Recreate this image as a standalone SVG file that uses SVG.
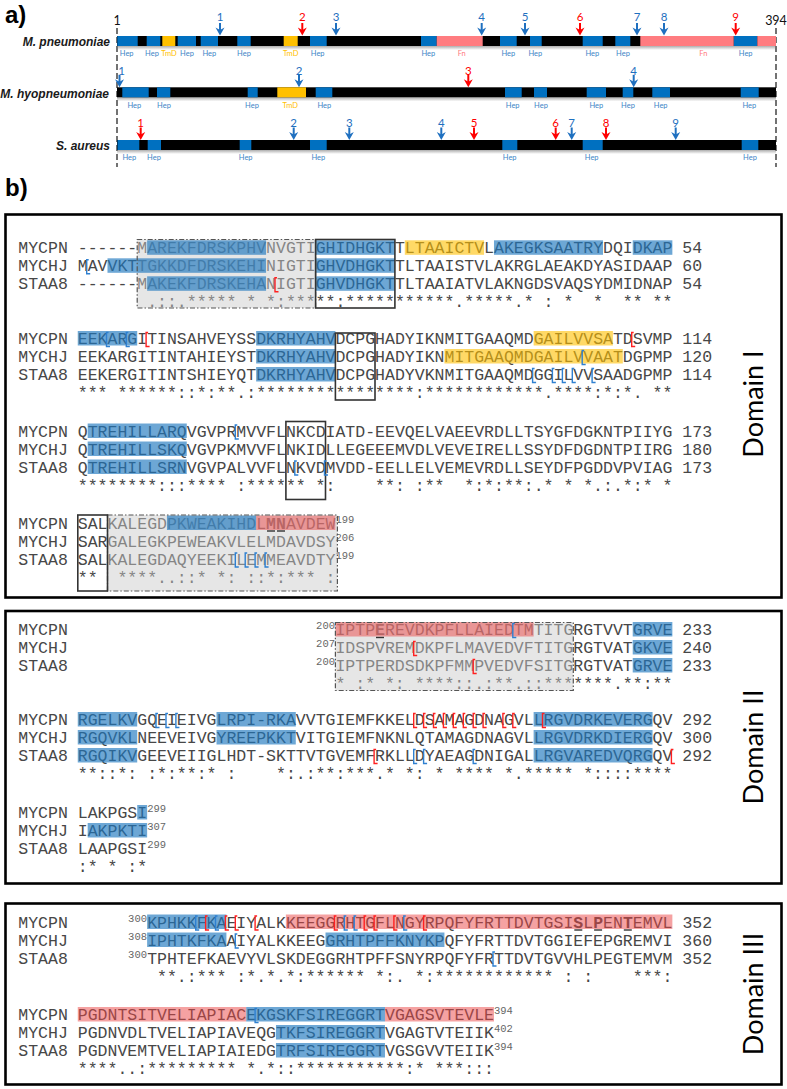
<svg xmlns="http://www.w3.org/2000/svg" width="787" height="1089" viewBox="0 0 787 1089">
<style>
.seq{font-family:"Liberation Mono","Courier New",monospace;font-size:16.52px;fill:#474747;white-space:pre}
.sup{font-family:"Liberation Mono","Courier New",monospace;font-size:10.5px;fill:#666}
.dom{font-family:Lato,"Open Sans",sans-serif;font-size:27px;fill:#000;text-anchor:middle}
.lbl{font-family:"Liberation Sans",Arial,sans-serif;font-weight:bold;font-size:24px;fill:#000}
.sp{font-family:"Liberation Sans",Arial,sans-serif;font-weight:bold;font-style:italic;font-size:12px;fill:#1a1a1a;text-anchor:end}
.hep{font-family:Lato,"Liberation Sans",sans-serif;font-size:7.5px;fill:#3d85c6;text-anchor:middle}
.tmd{font-family:Lato,"Liberation Sans",sans-serif;font-size:7.5px;fill:#ffc000;text-anchor:middle}
.fnl{font-family:Lato,"Liberation Sans",sans-serif;font-size:7.5px;fill:#ff7c80;text-anchor:middle}
.num{font-family:Lato,"Liberation Sans",sans-serif;font-size:11.5px;text-anchor:middle}
.nb{fill:#1f70c0}.nr{fill:#ff0000}
.end{font-family:Lato,"Liberation Sans",sans-serif;font-size:12.5px;fill:#111;text-anchor:middle}
.bl{fill:#0070c0}.ye{fill:#ffc000}.pk{fill:#ff7c80}
.hb{fill:#1f78be;fill-opacity:.65}.hy{fill:#ffc000;fill-opacity:.6}.hp{fill:#eb4646;fill-opacity:.5}.gb{fill:#cbcbcb;fill-opacity:.476}
.box{fill:none;stroke:#333;stroke-width:1.6}
.dbox{fill:none;stroke:#555;stroke-width:1.2;stroke-dasharray:5 2 1.5 2}
.frame{fill:none;stroke:#000;stroke-width:2.6}
.bb{stroke:#2f80d0;fill:none;stroke-width:1.4}.br{stroke:#ff2020;fill:none;stroke-width:1.4}
.ul{stroke:#333;stroke-width:1.4}
.ab{fill:#1f70c0;stroke:#1f70c0}.ar{fill:#ff0000;stroke:#ff0000}
.dash{stroke:#444;stroke-width:1.5;stroke-dasharray:6 3}
</style>
<defs>
<linearGradient id="sh" x1="0" y1="0" x2="0" y2="1"><stop offset="0" stop-color="#777" stop-opacity=".6"/><stop offset="1" stop-color="#777" stop-opacity="0"/></linearGradient>
<g id="arw"><path d="M0,-12.5V-5" stroke-width="2" fill="none"/><path d="M-4.5,-8L0,0L4.5,-8L0,-5.5Z" stroke="none"/></g>
<path id="bk" d="M2,-11.5H0V2.5H3.5"/>
</defs>
<rect width="787" height="1089" fill="#fff"/>

<g id="panel-a">
<text class="lbl" x="5" y="22.5">a)</text>
<line class="dash" x1="117" y1="28" x2="117" y2="167"/>
<line class="dash" x1="776" y1="28" x2="776" y2="167"/>
<text class="end" x="117" y="25">1</text>
<text class="end" x="776" y="25">394</text>

<g id="bar-mpn">
<text class="sp" x="110" y="45.5">M. pneumoniae</text>
<rect x="117" y="46" width="659" height="4" fill="url(#sh)"/>
<rect x="117" y="36" width="659" height="10" fill="#000"/>
<rect class="bl" x="117.3" y="36" width="20.4" height="10"/><rect class="bl" x="146.7" y="36" width="13.6" height="10"/><rect class="bl" x="177.7" y="36" width="18.3" height="10"/><rect class="bl" x="200.7" y="36" width="17.3" height="10"/><rect class="bl" x="237.3" y="36" width="13.4" height="10"/><rect class="bl" x="310" y="36" width="16.7" height="10"/><rect class="bl" x="421" y="36" width="15.7" height="10"/><rect class="bl" x="500" y="36" width="16.7" height="10"/><rect class="bl" x="530" y="36" width="11.7" height="10"/><rect class="bl" x="582.7" y="36" width="20" height="10"/><rect class="bl" x="615.3" y="36" width="15" height="10"/><rect class="bl" x="733.7" y="36" width="23.6" height="10"/>
<rect class="ye" x="162.3" y="36" width="13" height="10"/><rect class="ye" x="283.7" y="36" width="14" height="10"/>
<rect class="pk" x="436.7" y="36" width="46" height="10"/><rect class="pk" x="640.3" y="36" width="93.4" height="10"/><rect class="pk" x="757.3" y="36" width="18.7" height="10"/>
<text class="hep" x="126.7" y="56">Hep</text><text class="hep" x="152" y="56">Hep</text><text class="tmd" x="169" y="56">TmD</text><text class="hep" x="187" y="56">Hep</text><text class="hep" x="209.3" y="56">Hep</text><text class="hep" x="244" y="56">Hep</text><text class="tmd" x="290.7" y="56">TmD</text><text class="hep" x="317.7" y="56">Hep</text><text class="hep" x="428.3" y="56">Hep</text><text class="fnl" x="461.7" y="56">Fn</text><text class="hep" x="508.3" y="56">Hep</text><text class="hep" x="535.3" y="56">Hep</text><text class="hep" x="592.3" y="56">Hep</text><text class="hep" x="623" y="56">Hep</text><text class="fnl" x="703.3" y="56">Fn</text><text class="hep" x="745.7" y="56">Hep</text>
</g>

<g id="bar-mhy">
<text class="sp" x="109" y="97.8">M. hyopneumoniae</text>
<rect x="117" y="97.3" width="659" height="4" fill="url(#sh)"/>
<rect x="117" y="87.3" width="659" height="10" fill="#000"/>
<rect class="bl" x="122.3" y="87.3" width="26.4" height="10"/><rect class="bl" x="157" y="87.3" width="13.3" height="10"/><rect class="bl" x="247.7" y="87.3" width="10" height="10"/><rect class="bl" x="315.7" y="87.3" width="16.6" height="10"/><rect class="bl" x="505" y="87.3" width="16.7" height="10"/><rect class="bl" x="534" y="87.3" width="13" height="10"/><rect class="bl" x="586.7" y="87.3" width="19.3" height="10"/><rect class="bl" x="622.7" y="87.3" width="10.6" height="10"/><rect class="bl" x="652.3" y="87.3" width="17.7" height="10"/><rect class="bl" x="740.7" y="87.3" width="18" height="10"/>
<rect class="ye" x="277.3" y="87.3" width="28.7" height="10"/>
<text class="hep" x="134.3" y="107.5">Hep</text><text class="hep" x="164" y="107.5">Hep</text><text class="hep" x="252" y="107.5">Hep</text><text class="tmd" x="290.3" y="107.5">TmD</text><text class="hep" x="324.3" y="107.5">Hep</text><text class="hep" x="512.7" y="107.5">Hep</text><text class="hep" x="541" y="107.5">Hep</text><text class="hep" x="596.3" y="107.5">Hep</text><text class="hep" x="628" y="107.5">Hep</text><text class="hep" x="660.7" y="107.5">Hep</text><text class="hep" x="749.3" y="107.5">Hep</text>
</g>

<g id="bar-sau">
<text class="sp" x="110" y="150.3">S. aureus</text>
<rect x="117" y="150" width="659" height="4" fill="url(#sh)"/>
<rect x="117" y="140" width="659" height="10" fill="#000"/>
<rect class="bl" x="117.5" y="140" width="21.8" height="10"/><rect class="bl" x="147.7" y="140" width="13.3" height="10"/><rect class="bl" x="239.7" y="140" width="11.6" height="10"/><rect class="bl" x="310" y="140" width="16.7" height="10"/><rect class="bl" x="502.3" y="140" width="15" height="10"/><rect class="bl" x="582.7" y="140" width="20" height="10"/><rect class="bl" x="741.7" y="140" width="16.6" height="10"/>
<text class="hep" x="129.3" y="160">Hep</text><text class="hep" x="154" y="160">Hep</text><text class="hep" x="245.7" y="160">Hep</text><text class="hep" x="318.3" y="160">Hep</text><text class="hep" x="509.7" y="160">Hep</text><text class="hep" x="591.7" y="160">Hep</text><text class="hep" x="750" y="160">Hep</text>
</g>

<g id="arrows">
<use href="#arw" class="ab" x="220" y="35.5"/><text class="num nb" x="220" y="21">1</text>
<use href="#arw" class="ar" x="302.3" y="35.5"/><text class="num nr" x="302.3" y="21">2</text>
<use href="#arw" class="ab" x="336" y="35.5"/><text class="num nb" x="336" y="21">3</text>
<use href="#arw" class="ab" x="481.7" y="35.5"/><text class="num nb" x="481.7" y="21">4</text>
<use href="#arw" class="ab" x="525" y="35.5"/><text class="num nb" x="525" y="21">5</text>
<use href="#arw" class="ar" x="580" y="35.5"/><text class="num nr" x="580" y="21">6</text>
<use href="#arw" class="ab" x="637" y="35.5"/><text class="num nb" x="637" y="21">7</text>
<use href="#arw" class="ab" x="664" y="35.5"/><text class="num nb" x="664" y="21">8</text>
<use href="#arw" class="ar" x="735.7" y="35.5"/><text class="num nr" x="735.7" y="21">9</text>

<use href="#arw" class="ab" x="119.5" y="87.3"/><text class="num nb" x="121.5" y="74.5">1</text>
<use href="#arw" class="ab" x="299" y="87.3"/><text class="num nb" x="299" y="74.5">2</text>
<use href="#arw" class="ar" x="468.3" y="87.3"/><text class="num nr" x="468.3" y="74.5">3</text>
<use href="#arw" class="ab" x="633.7" y="87.3"/><text class="num nb" x="633.7" y="74.5">4</text>

<use href="#arw" class="ar" x="140.7" y="140"/><text class="num nr" x="140.7" y="126.5">1</text>
<use href="#arw" class="ab" x="293.7" y="140"/><text class="num nb" x="293.7" y="126.5">2</text>
<use href="#arw" class="ab" x="349.3" y="140"/><text class="num nb" x="349.3" y="126.5">3</text>
<use href="#arw" class="ab" x="441.3" y="140"/><text class="num nb" x="441.3" y="126.5">4</text>
<use href="#arw" class="ar" x="474" y="140"/><text class="num nr" x="474" y="126.5">5</text>
<use href="#arw" class="ar" x="555.7" y="140"/><text class="num nr" x="555.7" y="126.5">6</text>
<use href="#arw" class="ab" x="571.7" y="140"/><text class="num nb" x="571.7" y="126.5">7</text>
<use href="#arw" class="ar" x="606" y="140"/><text class="num nr" x="606" y="126.5">8</text>
<use href="#arw" class="ab" x="675.7" y="140"/><text class="num nb" x="675.7" y="126.5">9</text>
</g>
</g>

<text class="lbl" x="5" y="196">b)</text>

<g id="sequences">
<text class="seq" xml:space="preserve" x="18.3" y="253.3">MYCPN ------MAREKFDRSKPHVNVGTIGHIDHGKTTLTAAICTVLAKEGKSAATRYDQIDKAP 54</text>
<text class="seq" xml:space="preserve" x="18.3" y="271.3">MYCHJ MAVVKTTGKKDFDRSKEHINIGTIGHVDHGKTTLTAAISTVLAKRGLAEAKDYASIDAAP 60</text>
<text class="seq" xml:space="preserve" x="18.3" y="289.3">STAA8 ------MAKEKFDRSKEHANIGTIGHVDHGKTTLTAAIATVLAKNGDSVAQSYDMIDNAP 54</text>
<text class="seq" xml:space="preserve" x="147.13" y="307.3">.::.***** * *:*****:***********.*****.* : *  *  ** **</text>

<text class="seq" xml:space="preserve" x="18.3" y="344">MYCPN EEKARGITINSAHVEYSSDKRHYAHVDCPGHADYIKNMITGAAQMDGAILVVSATDSVMP 114</text>
<text class="seq" xml:space="preserve" x="18.3" y="362">MYCHJ EEKARGITINTAHIEYSTDKRHYAHVDCPGHADYIKNMITGAAQMDGAILVVAATDGPMP 120</text>
<text class="seq" xml:space="preserve" x="18.3" y="380">STAA8 EEKERGITINTSHIEYQTDKRHYAHVDCPGHADYVKNMITGAAQMDGGILVVSAADGPMP 114</text>
<text class="seq" xml:space="preserve" x="77.76" y="398">*** ******::*:**.:****************:************.****:*:*. **</text>

<text class="seq" xml:space="preserve" x="18.3" y="436.5">MYCPN QTREHILLARQVGVPRMVVFLNKCDIATD-EEVQELVAEEVRDLLTSYGFDGKNTPIIYG 173</text>
<text class="seq" xml:space="preserve" x="18.3" y="454.5">MYCHJ QTREHILLSKQVGVPKMVVFLNKIDLLEGEEEMVDLVEVEIRELLSSYDFDGDNTPIIRG 180</text>
<text class="seq" xml:space="preserve" x="18.3" y="472.5">STAA8 QTREHILLSRNVGVPALVVFLNKVDMVDD-EELLELVEMEVRDLLSEYDFPGDDVPVIAG 173</text>
<text class="seq" xml:space="preserve" x="77.76" y="490.5">********:::**** :****** *:    **: :**  *:*:**:.* * *.:.*:* *</text>

<text class="seq" xml:space="preserve" x="18.3" y="528.5">MYCPN SALKALEGDPKWEAKIHDL<tspan font-weight="bold">MN</tspan>AVDEW</text>
<text class="seq" xml:space="preserve" x="18.3" y="546.5">MYCHJ SARGALEGKPEWEAKVLELMDAVDSY</text>
<text class="seq" xml:space="preserve" x="18.3" y="564.5">STAA8 SALKALEGDAQYEEKILEMMEAVDTY</text>
<text class="seq" xml:space="preserve" x="77.76" y="582.5">**  ****..::* *: ::*:*** :</text>
<text class="sup" x="335.4" y="522.5">199</text><text class="sup" x="335.4" y="540.5">206</text><text class="sup" x="335.4" y="558.5">199</text>

<text class="seq" x="18.3" y="635">MYCPN</text><text class="seq" x="18.3" y="653">MYCHJ</text><text class="seq" x="18.3" y="671">STAA8</text>
<text class="seq" xml:space="preserve" x="335.42" y="635">IPTP<tspan font-weight="bold">E</tspan>REVDKPFLLAIEDTMTITGRGTVVTGRVE 233</text>
<text class="seq" xml:space="preserve" x="335.42" y="653">IDSPVREMDKPFLMAVEDVFTITGRGTVATGKVE 240</text>
<text class="seq" xml:space="preserve" x="335.42" y="671">IPTPERDSDKPFMMPVEDVFSITGRGTVATGRVE 233</text>
<text class="seq" xml:space="preserve" x="335.42" y="689">* :* *: ****::.:**.::*******.**:**</text>
<text class="sup" x="335" y="629" text-anchor="end">200</text><text class="sup" x="335" y="647" text-anchor="end">207</text><text class="sup" x="335" y="665" text-anchor="end">200</text>

<text class="seq" xml:space="preserve" x="18.3" y="725">MYCPN RGELKVGQEIEIVGLRPI-RKAVVTGIEMFKKELDSAMAGDNAGVLLRGVDRKEVERGQV 292</text>
<text class="seq" xml:space="preserve" x="18.3" y="743">MYCHJ RGQVKLNEEVEIVGYREEPKKTVITGIEMFNKNLQTAMAGDNAGVLLRGVDRKDIERGQV 300</text>
<text class="seq" xml:space="preserve" x="18.3" y="761">STAA8 RGQIKVGEEVEIIGLHDT-SKTTVTGVEMFRKLLDYAEAGDNIGALLRGVAREDVQRGQV 292</text>
<text class="seq" xml:space="preserve" x="77.76" y="779">**::*: :*:**:* :    *:.:**:***.* *: * **** *.***** *::::****</text>

<text class="seq" xml:space="preserve" x="18.3" y="818">MYCPN LAKPGSI</text>
<text class="seq" xml:space="preserve" x="18.3" y="836">MYCHJ IAKPKTI</text>
<text class="seq" xml:space="preserve" x="18.3" y="854">STAA8 LAAPGSI</text>
<text class="seq" xml:space="preserve" x="77.76" y="872">:* * :*</text>
<text class="sup" x="147.13" y="812">299</text><text class="sup" x="147.13" y="830">307</text><text class="sup" x="147.13" y="848">299</text>

<text class="seq" x="18.3" y="927.5">MYCPN</text><text class="seq" x="18.3" y="945.5">MYCHJ</text><text class="seq" x="18.3" y="963.5">STAA8</text>
<text class="seq" xml:space="preserve" x="147.13" y="927.5">KPHKKFKAEIYALKKEEGGRHTGFLNGYRPQFYFRTTDVTGSI<tspan font-weight="bold">S</tspan>L<tspan font-weight="bold">P</tspan>EN<tspan font-weight="bold">T</tspan>EMVL 352</text>
<text class="seq" xml:space="preserve" x="147.13" y="945.5">IPHTKFKAAIYALKKEEGGRHTPFFKNYKPQFYFRTTDVTGGIEFEPGREMVI 360</text>
<text class="seq" xml:space="preserve" x="147.13" y="963.5">TPHTEFKAEVYVLSKDEGGRHTPFFSNYRPQFYFRTTDVTGVVHLPEGTEMVM 352</text>
<text class="seq" xml:space="preserve" x="157.04" y="981.5">**.:*** :*.*.*:****** *:. *:************ : :    ***:</text>
<text class="sup" x="147" y="921.5" text-anchor="end">300</text><text class="sup" x="147" y="939.5" text-anchor="end">308</text><text class="sup" x="147" y="957.5" text-anchor="end">300</text>

<text class="seq" xml:space="preserve" x="18.3" y="1020">MYCPN PGDNTSITVELIAPIACEKGSKFSIREGGRTVGAGSVTEVLE</text>
<text class="seq" xml:space="preserve" x="18.3" y="1038">MYCHJ PGDNVDLTVELIAPIAVEQGTKFSIREGGRTVGAGTVTEIIK</text>
<text class="seq" xml:space="preserve" x="18.3" y="1056">STAA8 PGDNVEMTVELIAPIAIEDGTRFSIREGGRTVGSGVVTEIIK</text>
<text class="seq" xml:space="preserve" x="77.76" y="1074">****..:********* *.*::***********:* ***:::</text>
<text class="sup" x="494" y="1014">394</text><text class="sup" x="494" y="1032">402</text><text class="sup" x="494" y="1050">394</text>
</g>

<g id="highlights" transform="matrix(9.91 0 0 1 18.3 0)">
<rect class="gb" x="12" y="239.5" width="18" height="68.5"/>
<rect class="gb" x="9" y="515" width="23.2" height="76"/>
<rect class="gb" x="32" y="622.5" width="24" height="68"/>

<rect class="hb" x="13" y="240.3" width="12" height="14.5"/><rect class="hb" x="30" y="240.3" width="8" height="14.5"/><rect class="hy" x="39" y="240.3" width="8" height="14.5"/><rect class="hb" x="48" y="240.3" width="11" height="14.5"/><rect class="hb" x="62" y="240.3" width="4" height="14.5"/>
<rect class="hb" x="9" y="258.3" width="16" height="14.5"/><rect class="hb" x="30" y="258.3" width="8" height="14.5"/>
<rect class="hb" x="13" y="276.3" width="12" height="14.5"/><rect class="hb" x="30" y="276.3" width="8" height="14.5"/>

<rect class="hb" x="6" y="331" width="6" height="14.5"/><rect class="hb" x="24" y="331" width="8" height="14.5"/><rect class="hy" x="52" y="331" width="8" height="14.5"/>
<rect class="hb" x="24" y="349" width="8" height="14.5"/><rect class="hy" x="43" y="349" width="18" height="14.5"/>
<rect class="hb" x="24" y="367" width="8" height="14.5"/>

<rect class="hb" x="7" y="423.5" width="10" height="14.5"/><rect class="hb" x="7" y="441.5" width="10" height="14.5"/><rect class="hb" x="7" y="459.5" width="10" height="14.5"/>

<rect class="hb" x="15" y="515.5" width="9" height="14.5"/><rect class="hp" x="24" y="515.5" width="8" height="14.5"/>

<rect class="hp" x="32" y="622" width="20" height="14.5"/><rect class="hb" x="62" y="622" width="4" height="14.5"/>
<rect class="hb" x="62" y="640" width="4" height="14.5"/><rect class="hb" x="62" y="658" width="4" height="14.5"/>

<rect class="hb" x="6" y="712" width="6" height="14.5"/><rect class="hb" x="20" y="712" width="8" height="14.5"/><rect class="hb" x="52" y="712" width="12" height="14.5"/>
<rect class="hb" x="6" y="730" width="6" height="14.5"/><rect class="hb" x="20" y="730" width="8" height="14.5"/><rect class="hb" x="52" y="730" width="12" height="14.5"/>
<rect class="hb" x="6" y="748" width="6" height="14.5"/><rect class="hb" x="52" y="748" width="12" height="14.5"/>

<rect class="hb" x="12" y="805" width="1" height="14.5"/><rect class="hb" x="7" y="823" width="6" height="14.5"/>

<rect class="hb" x="13" y="914.5" width="8" height="14.5"/><rect class="hp" x="27" y="914.5" width="39" height="14.5"/>
<rect class="hb" x="13" y="932.5" width="8" height="14.5"/><rect class="hb" x="31" y="932.5" width="12" height="14.5"/>

<rect class="hp" x="6" y="1007" width="17" height="14.5"/><rect class="hb" x="23" y="1007" width="14" height="14.5"/><rect class="hp" x="37" y="1007" width="11" height="14.5"/>
<rect class="hb" x="26" y="1025" width="11" height="14.5"/><rect class="hb" x="26" y="1043" width="11" height="14.5"/>
</g>

<g id="boxes">
<rect class="dbox" x="137.2" y="239.5" width="178.4" height="68.5"/>
<rect class="dbox" x="107.5" y="515" width="229.9" height="76"/>
<rect class="dbox" x="335.4" y="622.5" width="237.9" height="68"/>
<rect class="box" x="315.6" y="239.5" width="79.3" height="68.5"/>
<rect class="box" x="335.4" y="333" width="39.6" height="67"/>
<rect class="box" x="285.9" y="421.5" width="39.6" height="78"/>
<rect class="box" x="77.8" y="515" width="29.7" height="76"/>
</g>

<g id="underlines">
<line class="ul" x1="267" y1="531" x2="275" y2="531"/><line class="ul" x1="277" y1="531" x2="285" y2="531"/>
<line class="ul" x1="376" y1="637.5" x2="384" y2="637.5"/>
<line class="ul" x1="574.3" y1="930" x2="582.3" y2="930"/><line class="ul" x1="594.1" y1="930" x2="602.1" y2="930"/><line class="ul" x1="623.8" y1="930" x2="631.8" y2="930"/>
</g>

<g id="brackets">
<use href="#bk" class="bb" x="86.7" y="271.3"/><use href="#bk" class="br" x="275" y="289.3"/>
<use href="#bk" class="bb" x="106.5" y="344"/><use href="#bk" class="bb" x="126.3" y="344"/><use href="#bk" class="br" x="146.1" y="344"/><use href="#bk" class="br" x="631.7" y="344"/>
<use href="#bk" class="bb" x="582.2" y="362"/>
<use href="#bk" class="bb" x="532.6" y="380"/><use href="#bk" class="bb" x="552.4" y="380"/><use href="#bk" class="bb" x="562.4" y="380"/><use href="#bk" class="bb" x="572.3" y="380"/><use href="#bk" class="bb" x="592.1" y="380"/>
<use href="#bk" class="bb" x="235.3" y="436.5"/><use href="#bk" class="bb" x="294.8" y="472.5"/><use href="#bk" class="bb" x="324.5" y="472.5"/>
<use href="#bk" class="bb" x="235.3" y="564.5"/><use href="#bk" class="bb" x="245.2" y="564.5"/><use href="#bk" class="bb" x="255.1" y="564.5"/><use href="#bk" class="bb" x="265.1" y="564.5"/>
<use href="#bk" class="bb" x="512.8" y="635"/><use href="#bk" class="br" x="413.7" y="653"/><use href="#bk" class="br" x="473.2" y="671"/>
<use href="#bk" class="bb" x="156" y="725"/><use href="#bk" class="bb" x="166" y="725"/><use href="#bk" class="bb" x="175.9" y="725"/>
<use href="#bk" class="br" x="413.7" y="725"/><use href="#bk" class="br" x="423.6" y="725"/><use href="#bk" class="br" x="433.5" y="725"/><use href="#bk" class="br" x="443.4" y="725"/><use href="#bk" class="br" x="453.3" y="725"/><use href="#bk" class="br" x="463.3" y="725"/><use href="#bk" class="br" x="473.2" y="725"/><use href="#bk" class="br" x="483.1" y="725"/><use href="#bk" class="br" x="502.9" y="725"/><use href="#bk" class="br" x="512.8" y="725"/><use href="#bk" class="br" x="542.5" y="725"/>
<use href="#bk" class="br" x="374.1" y="761"/><use href="#bk" class="bb" x="413.7" y="761"/><use href="#bk" class="bb" x="423.6" y="761"/><use href="#bk" class="bb" x="473.2" y="761"/><use href="#bk" class="br" x="671.4" y="761"/>
<use href="#bk" class="bb" x="195.7" y="927.5"/><use href="#bk" class="br" x="205.6" y="927.5"/><use href="#bk" class="bb" x="215.5" y="927.5"/><use href="#bk" class="br" x="225.4" y="927.5"/><use href="#bk" class="br" x="235.3" y="927.5"/><use href="#bk" class="br" x="255.1" y="927.5"/>
<use href="#bk" class="br" x="334.4" y="927.5"/><use href="#bk" class="bb" x="344.3" y="927.5"/><use href="#bk" class="bb" x="354.2" y="927.5"/><use href="#bk" class="br" x="364.2" y="927.5"/><use href="#bk" class="br" x="374.1" y="927.5"/><use href="#bk" class="br" x="393.9" y="927.5"/><use href="#bk" class="bb" x="403.8" y="927.5"/><use href="#bk" class="br" x="423.6" y="927.5"/>
<use href="#bk" class="bb" x="235.3" y="945.5"/><use href="#bk" class="bb" x="493" y="963.5"/>
<use href="#bk" class="bb" x="255.1" y="1020"/>
</g>

<g id="domain-1"><rect class="frame" x="5.5" y="214.5" width="776" height="383"/><text class="dom" transform="translate(763,404) rotate(-90)">Domain I</text></g>
<g id="domain-2"><rect class="frame" x="5.5" y="611" width="776" height="272.5"/><text class="dom" transform="translate(763,747) rotate(-90)">Domain II</text></g>
<g id="domain-3"><rect class="frame" x="5.5" y="903.5" width="776" height="181"/><text class="dom" transform="translate(763,994) rotate(-90)">Domain III</text></g>
</svg>
